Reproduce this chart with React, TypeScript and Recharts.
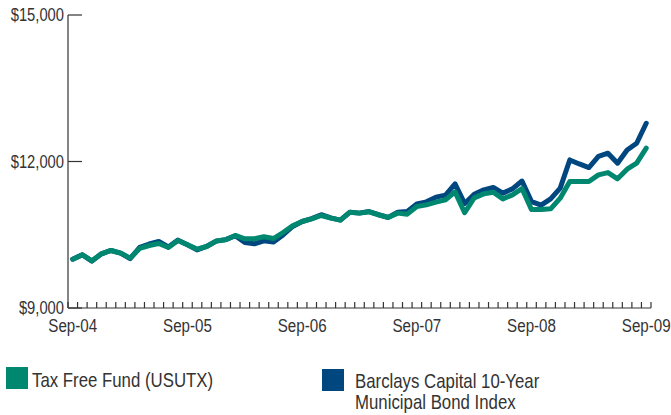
import React from 'react';
import { LineChart, Line, XAxis, YAxis } from 'recharts';

const tickLabels = ['Sep-04', 'Sep-05', 'Sep-06', 'Sep-07', 'Sep-08', 'Sep-09'];
const monthsPerLabel = 12;
const yTicks = [9000, 12000, 15000];

const fundValues = [
  10000, 10090, 9967, 10110, 10178, 10125, 10022, 10219, 10280, 10320, 10240, 10382,
  10294, 10206, 10260, 10370, 10397, 10485, 10417, 10417, 10458, 10423, 10546, 10683,
  10771, 10826, 10894, 10840, 10800, 10963, 10943, 10969, 10908, 10853, 10943, 10922,
  11078, 11112, 11168, 11215, 11378, 10950, 11256, 11338, 11372, 11235, 11317, 11446,
  11015, 11015, 11031, 11249, 11589, 11589, 11589, 11726, 11773, 11645, 11843, 11965,
  12272,
];

const indexValues = [
  10000, 10090, 9960, 10110, 10178, 10125, 10010, 10240, 10310, 10362, 10250, 10390,
  10294, 10190, 10260, 10370, 10400, 10480, 10342, 10315, 10376, 10350, 10497, 10670,
  10771, 10830, 10910, 10845, 10800, 10963, 10943, 10975, 10910, 10855, 10960, 10975,
  11133, 11174, 11270, 11311, 11540, 11140, 11331, 11420, 11468, 11352, 11440, 11600,
  11180, 11105, 11235, 11454, 12032, 11950, 11876, 12103, 12170, 11965, 12237, 12374,
  12783,
];

const TEAL = '#00876F';
const NAVY = '#00467F';
const AXIS = '#333333';
const TEXT = '#333333';
const FONT = "'Liberation Sans', Arial, sans-serif";
const NARROW = 0.82;

const series = [
  { key: 'index', label: ['Barclays Capital 10-Year', 'Municipal Bond Index'], color: NAVY },
  { key: 'fund', label: ['Tax Free Fund (USUTX)'], color: TEAL },
];

const data = fundValues.map((v, i) => ({ m: i, fund: v, index: indexValues[i] }));
const boundaryTicks = Array.from({ length: data.length + 1 }, (_, i) => i - 0.5);
const labelTicks = tickLabels.map((_, i) => i * monthsPerLabel);
const xTicks = [...boundaryTicks, ...labelTicks].sort((a, b) => a - b);

const NarrowText = ({ x, y, size, anchor, children, dy }: any) => (
  <text
    transform={`translate(${x} ${y}) scale(${NARROW} 1)`}
    x={0}
    y={0}
    dy={dy}
    textAnchor={anchor || 'start'}
    fontSize={size}
    fill={TEXT}
    fontFamily={FONT}
  >
    {children}
  </text>
);

const XTick = (props: any) => {
  const { x, y, payload } = props;
  const v = payload.value;
  if (!Number.isInteger(v)) {
    return <line x1={x} x2={x} y1={y} y2={y - 6} stroke={AXIS} strokeWidth={1.2} />;
  }
  return (
    <NarrowText x={x} y={y + 24} size={18.5} anchor="middle">
      {tickLabels[v / monthsPerLabel]}
    </NarrowText>
  );
};

const YTick = (props: any) => {
  const { x, y, payload } = props;
  return (
    <g>
      <line x1={x} x2={x + 14} y1={y} y2={y} stroke={AXIS} strokeWidth={1.2} />
      <NarrowText x={x - 4} y={y} dy="0.36em" size={18} anchor="end">
        {'$' + payload.value.toLocaleString('en-US')}
      </NarrowText>
    </g>
  );
};

const legendLayout: Record<string, { sx: number; sy: number; tx: number; ty: number }> = {
  fund: { sx: 6, sy: 367, tx: 32, ty: 387 },
  index: { sx: 322, sy: 369, tx: 355, ty: 388 },
};

export default function App() {
  return (
    <div style={{ position: 'absolute', left: 0, top: 0, width: 671, height: 415, background: '#fff' }}>
      <LineChart width={671} height={415} data={data} margin={{ top: 15, right: 20, left: 0, bottom: 77 }}>
        <XAxis
          dataKey="m"
          type="number"
          domain={[-0.5, data.length - 0.5]}
          ticks={xTicks}
          interval={0}
          height={30}
          tickSize={0}
          tickMargin={0}
          tickLine={false}
          axisLine={{ stroke: AXIS, strokeWidth: 1.2 }}
          tick={(p: any) => <XTick {...p} />}
        />
        <YAxis
          type="number"
          domain={[9000, 15000]}
          ticks={yTicks}
          interval={0}
          width={68}
          tickSize={0}
          tickMargin={0}
          tickLine={false}
          axisLine={{ stroke: AXIS, strokeWidth: 1.2 }}
          tick={(p: any) => <YTick {...p} />}
        />
        {series.map((s) => (
          <Line
            key={s.key}
            dataKey={s.key}
            type="linear"
            stroke={s.color}
            strokeWidth={5}
            strokeLinejoin="round"
            strokeLinecap="round"
            dot={false}
            activeDot={false}
            isAnimationActive={false}
          />
        ))}
      </LineChart>
      <svg width={671} height={415} style={{ position: 'absolute', left: 0, top: 0, pointerEvents: 'none' }}>
        {series.map((s) => {
          const l = legendLayout[s.key];
          return (
            <g key={s.key}>
              <rect x={l.sx} y={l.sy} width={22} height={22} fill={s.color} />
              {s.label.map((t, i) => (
                <NarrowText key={i} x={l.tx} y={l.ty + i * 21} size={20.5}>
                  {t}
                </NarrowText>
              ))}
            </g>
          );
        })}
      </svg>
    </div>
  );
}
